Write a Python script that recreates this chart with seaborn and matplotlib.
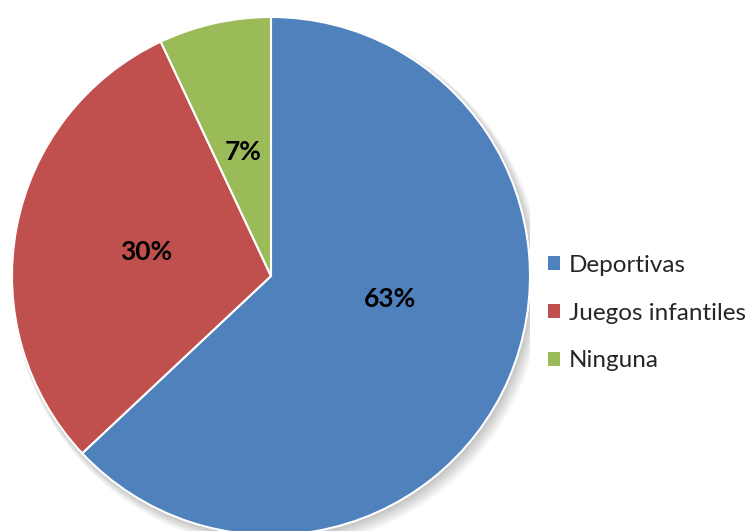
import matplotlib
matplotlib.use("Agg")
import matplotlib.pyplot as plt
import seaborn as sns
from matplotlib.patches import Circle, Patch

sns.set_theme(style="white")
plt.rcParams["font.family"] = ["Lato", "DejaVu Sans"]

categories = ["Deportivas", "Juegos infantiles", "Ninguna"]
values = [63, 30, 7]
colors = ["#4F81BD", "#C0504D", "#9BBB59"]

W, H = 752, 531
fig = plt.figure(figsize=(W / 100, H / 100), dpi=100)
fig.patch.set_facecolor("white")

R = 259
cx, cy = 271, 276
ax = fig.add_axes([(cx - R) / W, (H - cy - R) / H, 2 * R / W, 2 * R / H])
ax.set_xlim(-1, 1)
ax.set_ylim(-1, 1)
ax.set_aspect("equal")
ax.axis("off")

# soft drop shadow under the pie
for i in range(12):
    off = 0.004 + i * 0.0018
    ax.add_patch(Circle((off, -off * 1.3), 1.0 + i * 0.002, color="black",
                        alpha=0.018, lw=0, zorder=0))

wedges, texts, autotexts = ax.pie(
    values, colors=colors, startangle=90, counterclock=False, radius=1.0,
    wedgeprops=dict(edgecolor="white", linewidth=1.5),
    autopct=lambda p: f"{p:.0f}%", pctdistance=0.49,
    textprops=dict(fontsize=19, fontweight="bold", color="black"),
)
for w in wedges:
    w.set_zorder(2)
for t in autotexts:
    t.set_zorder(3)
autotexts[0].set_position((0.46, -0.09))
ax.set_xlim(-1, 1)
ax.set_ylim(-1, 1)

handles = [Patch(facecolor=c, edgecolor="none") for c in colors]
fig.legend(handles, categories, loc="center left",
           bbox_to_anchor=(538 / W, 1 - 313 / H), frameon=False,
           fontsize=17.5, handlelength=0.5, handleheight=0.5,
           handletextpad=0.37, labelspacing=1.1, borderaxespad=0)

fig.savefig("out.png", dpi=100, facecolor="white")
